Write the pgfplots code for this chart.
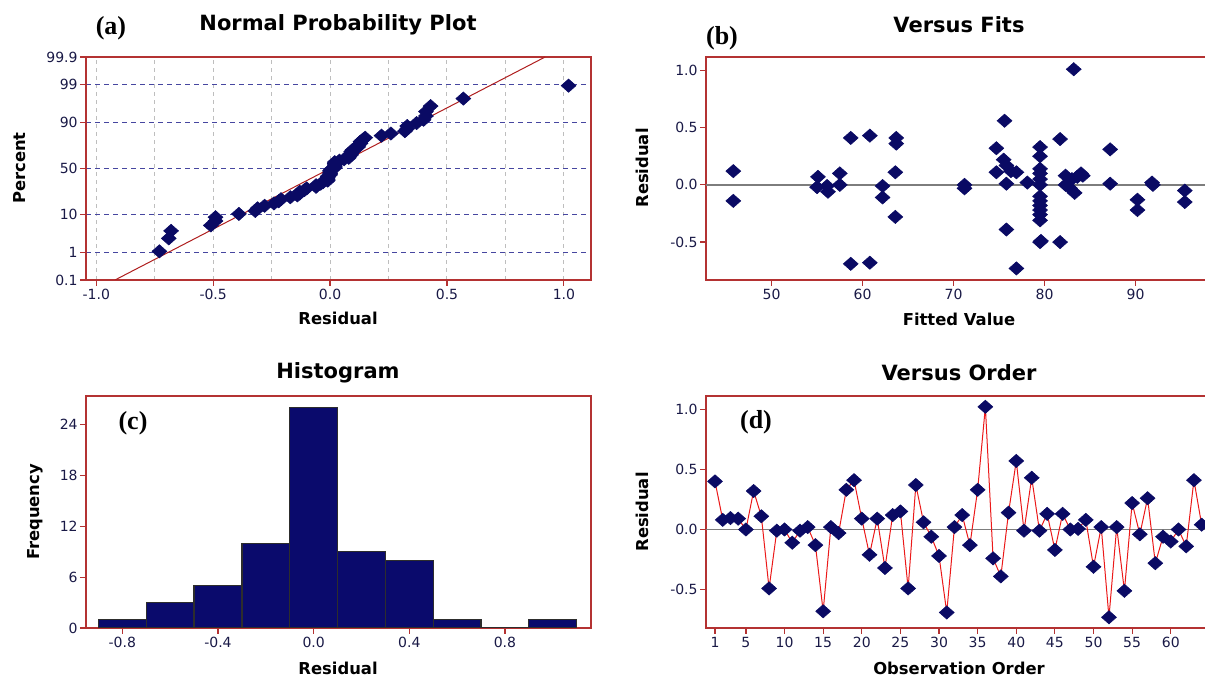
\documentclass[border=0pt]{standalone}
\usepackage{fontspec}
\setmainfont{DejaVu Sans}
\newfontfamily\timesfont{Liberation Serif}
\usepackage{pgfplots}
\pgfplotsset{compat=1.18}
\definecolor{bordred}{RGB}{180,50,50}
\definecolor{navy}{RGB}{10,10,100}
\definecolor{barfill}{RGB}{10,10,108}
\definecolor{tickcol}{RGB}{25,25,70}
\definecolor{gridblue}{RGB}{70,70,160}
\definecolor{gridgray}{RGB}{190,190,190}
\definecolor{zerogray}{RGB}{125,125,125}
\definecolor{fitred}{RGB}{175,30,30}
\definecolor{linered}{RGB}{235,25,25}
\definecolor{baredge}{RGB}{45,45,45}
\pgfplotsset{
  panel/.style={
    scale only axis,
    axis line style={bordred, line width=0.7pt},
    every tick/.style={bordred, line width=0.6pt},
    tick align=outside,
    major tick length=3pt,
    minor tick length=0pt,
    xtick pos=left, ytick pos=left,
    tick label style={font=\fontsize{7}{8}\selectfont, text=tickcol},
    yticklabel style={inner sep=1pt},
    xticklabel style={inner sep=1.5pt},
  },
  dia/.style={only marks, mark=diamond*, mark size=3.3pt,
    mark options={fill=navy, draw=navy, line width=0.3pt, xscale=1.5}},
}
\newcommand{\ttl}{\fontsize{10.5}{12}\selectfont\bfseries}
\newcommand{\lbl}{\fontsize{8.2}{10}\selectfont\bfseries}
\newcommand{\pl}{\timesfont\fontsize{13}{15}\selectfont\bfseries}
\begin{document}
\begin{tikzpicture}
\useasboundingbox (0,0) rectangle (602.5pt,339pt);
% ---------------- (a) Normal probability plot
\begin{axis}[panel, at={(43pt,199pt)}, anchor=south west,
  width=252.5pt, height=111.5pt,
  xmin=-1.044, xmax=1.116, ymin=-3.09, ymax=3.09,
  xtick={-1,-0.5,0,0.5,1}, xticklabels={-1.0,-0.5,0.0,0.5,1.0},
  minor xtick={-0.75,-0.25,0.25,0.75},
  xmajorgrids, xminorgrids,
  major x grid style={gridgray, dash pattern=on 2pt off 2pt, line width=0.5pt},
  minor x grid style={gridgray, dash pattern=on 2pt off 2pt, line width=0.5pt},
  ytick={-3.090,-2.326,-1.2816,0,1.2816,2.326,3.090},
  yticklabels={0.1,1,10,50,90,99,99.9},
  ymajorgrids,
  major y grid style={gridblue, dash pattern=on 2.5pt off 2pt, line width=0.5pt},
]
\addplot[fitred, line width=0.5pt] coordinates {(-0.92,-3.09) (0.92,3.09)};
\addplot[dia] coordinates {
(-0.73,-2.295) (-0.69,-1.937) (-0.68,-1.729) (-0.51,-1.577) (-0.49,-1.454)
(-0.49,-1.350) (-0.39,-1.259) (-0.32,-1.177) (-0.31,-1.103) (-0.28,-1.034)
(-0.24,-0.969) (-0.22,-0.909) (-0.21,-0.852) (-0.17,-0.797) (-0.14,-0.745)
(-0.13,-0.694) (-0.13,-0.645) (-0.11,-0.598) (-0.10,-0.552) (-0.06,-0.508)
(-0.06,-0.464) (-0.04,-0.421) (-0.03,-0.379) (-0.01,-0.337) (-0.01,-0.296)
(-0.01,-0.256) (-0.01,-0.216) (0.00,-0.176) (0.00,-0.137) (0.00,-0.097)
(0.00,-0.058) (0.005,-0.019) (0.02,0.019) (0.02,0.058) (0.02,0.097)
(0.02,0.137) (0.02,0.176) (0.04,0.216) (0.06,0.256) (0.08,0.296)
(0.08,0.337) (0.09,0.379) (0.09,0.421) (0.09,0.464) (0.095,0.508)
(0.11,0.552) (0.12,0.598) (0.12,0.645) (0.13,0.694) (0.13,0.745)
(0.14,0.797) (0.15,0.852) (0.22,0.909) (0.26,0.969) (0.32,1.034)
(0.33,1.103) (0.33,1.177) (0.37,1.259) (0.40,1.350) (0.41,1.454)
(0.41,1.577) (0.43,1.729) (0.57,1.937) (1.02,2.295)
};
\end{axis}
% ---------------- (b) Versus fits
\begin{axis}[panel, at={(353pt,199pt)}, anchor=south west,
  width=253.5pt, height=111.5pt,
  xmin=42.8, xmax=98.5, ymin=-0.831, ymax=1.117,
  xtick={50,60,70,80,90}, xticklabels={50,60,70,80,90},
  ytick={-0.5,0,0.5,1}, yticklabels={-0.5,0.0,0.5,1.0},
]
\addplot[zerogray, line width=0.9pt] coordinates {(42.8,0) (98.5,0)};
\addplot[dia] coordinates {
(45.8,0.12) (45.8,-0.14) (55.1,0.07) (55.0,-0.02) (56.1,-0.01) (56.2,-0.06)
(57.5,0.10) (57.5,0.00) (58.7,0.41) (58.7,-0.69) (60.8,0.43) (60.8,-0.68)
(62.2,-0.01) (62.2,-0.11) (63.7,0.41) (63.7,0.36) (63.6,0.11) (63.6,-0.28)
(71.2,0.00) (71.2,-0.03) (74.7,0.32) (74.7,0.11) (75.6,0.56) (75.5,0.22)
(75.8,0.17) (75.8,0.01) (75.8,-0.39) (76.3,0.12) (76.9,0.11) (76.9,-0.73)
(78.1,0.02)
(79.5,0.33) (79.5,0.25) (79.5,0.14) (79.5,0.10) (79.5,0.05) (79.5,0.00)
(79.5,-0.10) (79.5,-0.14) (79.5,-0.18) (79.5,-0.22) (79.5,-0.26) (79.5,-0.31)
(79.5,-0.50) (79.6,-0.49)
(81.7,0.40) (81.7,-0.50) (82.3,0.08) (82.3,0.00) (82.8,-0.03) (83.0,0.05)
(83.2,1.01) (83.3,-0.07) (83.6,0.07) (84.0,0.10) (84.2,0.08)
(87.2,0.31) (87.2,0.01) (90.2,-0.13) (90.2,-0.22) (91.8,0.02) (91.9,0.00)
(95.4,-0.05) (95.4,-0.15)
};
\end{axis}
% ---------------- (c) Histogram
\begin{axis}[panel, at={(43pt,25pt)}, anchor=south west,
  width=252.5pt, height=116pt,
  xmin=-0.952, xmax=1.16, ymin=0, ymax=27.4,
  xtick={-0.8,-0.4,0,0.4,0.8}, xticklabels={-0.8,-0.4,0.0,0.4,0.8},
  ytick={0,6,12,18,24}, yticklabels={0,6,12,18,24},
]
\addplot[ybar interval, fill=barfill, draw=baredge, line width=0.6pt] coordinates {
(-0.9,1) (-0.7,3) (-0.5,5) (-0.3,10) (-0.1,26) (0.1,9) (0.3,8) (0.5,1) (0.7,0) (0.9,1) (1.1,1)
};
\end{axis}
% ---------------- (d) Versus order
\begin{axis}[panel, at={(353pt,25pt)}, anchor=south west,
  width=253.5pt, height=116pt,
  xmin=-0.165, xmax=65.47, ymin=-0.819, ymax=1.11,
  xtick={1,5,10,15,20,25,30,35,40,45,50,55,60},
  xticklabels={1,5,10,15,20,25,30,35,40,45,50,55,60},
  ytick={-0.5,0,0.5,1}, yticklabels={-0.5,0.0,0.5,1.0},
]
\addplot[zerogray, line width=0.9pt] coordinates {(-0.165,0) (65.47,0)};
\addplot[linered, line width=0.5pt, mark=diamond*, mark size=3.3pt,
  mark options={fill=navy, draw=navy, line width=0.3pt, xscale=1.5}] coordinates {
(1,0.40) (2,0.08) (3,0.095) (4,0.09) (5,0.00) (6,0.32) (7,0.11) (8,-0.49)
(9,-0.01) (10,0.00) (11,-0.11) (12,-0.01) (13,0.02) (14,-0.13) (15,-0.68) (16,0.02)
(17,-0.03) (18,0.33) (19,0.41) (20,0.09) (21,-0.21) (22,0.09) (23,-0.32) (24,0.12)
(25,0.15) (26,-0.49) (27,0.37) (28,0.06) (29,-0.06) (30,-0.22) (31,-0.69) (32,0.02)
(33,0.12) (34,-0.13) (35,0.33) (36,1.02) (37,-0.24) (38,-0.39) (39,0.14) (40,0.57)
(41,-0.01) (42,0.43) (43,-0.01) (44,0.13) (45,-0.17) (46,0.13) (47,0.00) (48,0.005)
(49,0.08) (50,-0.31) (51,0.02) (52,-0.73) (53,0.02) (54,-0.51) (55,0.22) (56,-0.04)
(57,0.26) (58,-0.28) (59,-0.06) (60,-0.10) (61,0.00) (62,-0.14) (63,0.41) (64,0.04)
};
\end{axis}
% ---------------- texts
\node at (169pt,326.5pt) {\ttl Normal Probability Plot};
\node at (479.5pt,326.5pt) {\ttl Versus Fits};
\node at (169pt,152.5pt) {\ttl Histogram};
\node at (479.5pt,152.5pt) {\ttl Versus Order};
\node at (169pt,180pt) {\lbl Residual};
\node at (479.5pt,179.5pt) {\lbl Fitted Value};
\node at (169pt,5pt) {\lbl Residual};
\node at (479.5pt,5pt) {\lbl Observation Order};
\node[rotate=90] at (10pt,255pt) {\lbl Percent};
\node[rotate=90] at (321pt,255pt) {\lbl Residual};
\node[rotate=90] at (17.5pt,83pt) {\lbl Frequency};
\node[rotate=90] at (321pt,83pt) {\lbl Residual};
\node at (55.5pt,325pt) {\pl (a)};
\node at (361pt,320pt) {\pl (b)};
\node at (66.5pt,127.5pt) {\pl (c)};
\node at (378pt,128pt) {\pl (d)};
\end{tikzpicture}
\end{document}
